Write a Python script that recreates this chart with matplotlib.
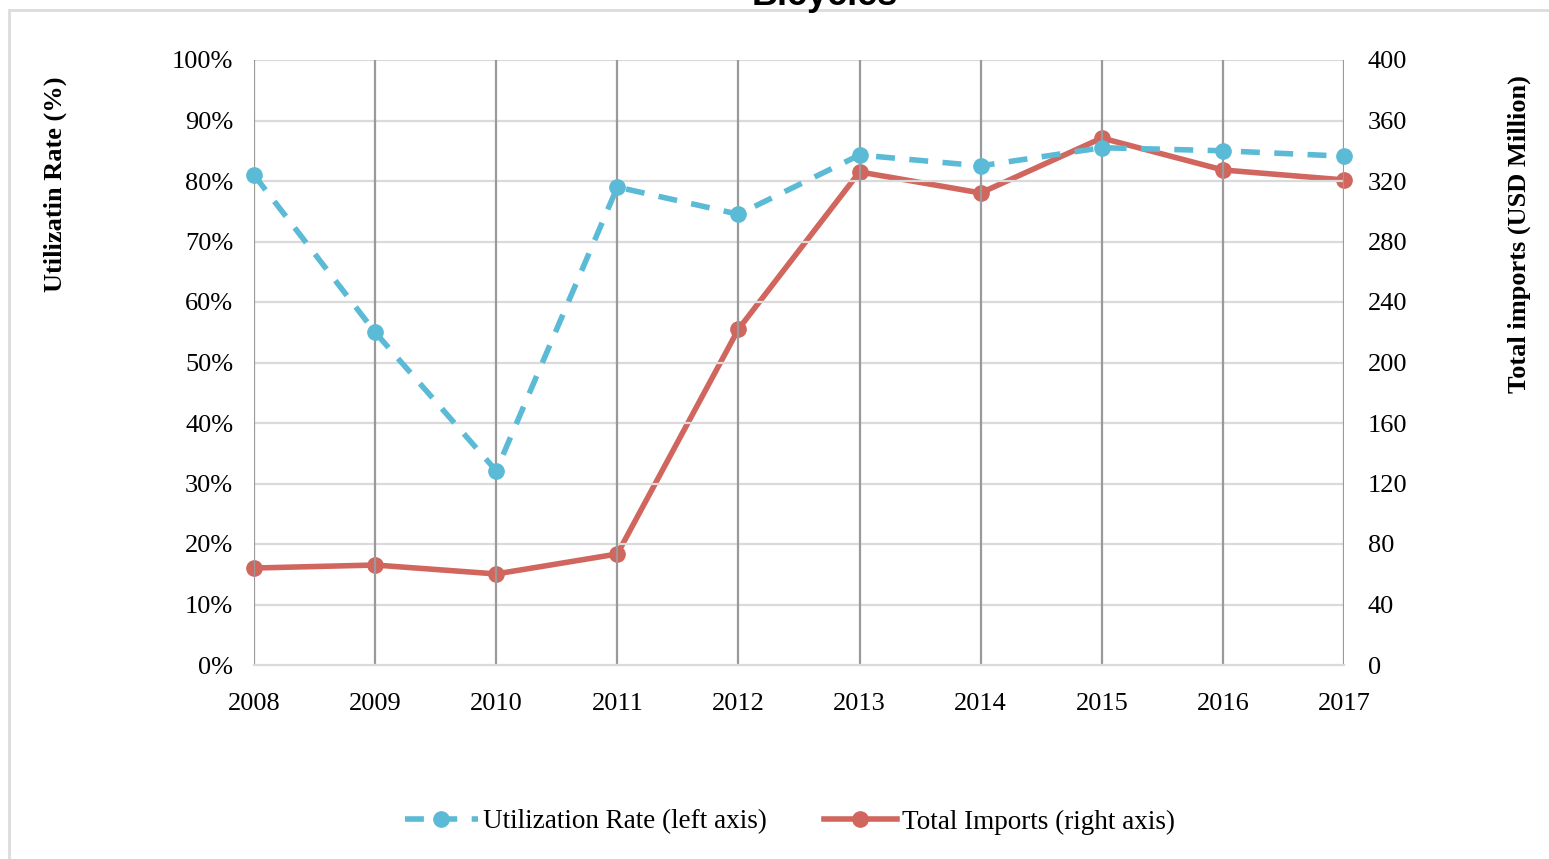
import matplotlib.pyplot as plt
from matplotlib.patches import Rectangle
from matplotlib.ticker import FuncFormatter

years = [2008, 2009, 2010, 2011, 2012, 2013, 2014, 2015, 2016, 2017]
utilization = [81.0, 55.0, 32.1, 79.0, 74.5, 84.3, 82.5, 85.5, 85.0, 84.1]
imports = [64.1, 66.1, 60.2, 73.4, 222.1, 326.0, 312.1, 348.4, 327.3, 320.7]

BLUE = "#5bbad5"
RED = "#d0665e"

plt.rcParams["font.family"] = ["Liberation Serif", "DejaVu Serif"]

fig = plt.figure(figsize=(15.49, 8.59), dpi=100)
fig.patch.set_facecolor("white")

# frame of the original slide box
fig.patches.append(Rectangle((9 / 1549, -0.01), 1.0, 1 - 10 / 859 + 0.01,
                             transform=fig.transFigure, fill=False,
                             edgecolor="#dcdcdc", linewidth=2))
# top title, cut off in the source image
fig.text(825 / 1549, 1.005, "Bicycles", ha="center", va="center",
         fontsize=26, fontweight="bold", family="Liberation Sans")

ax = fig.add_axes([254 / 1549, 1 - 665 / 859, 1090 / 1549, 605 / 859])
ax2 = ax.twinx()

ax.set_xlim(2008, 2017)
ax.set_ylim(0, 100)
ax2.set_ylim(0, 400)
ax.set_xticks(years)
ax.set_yticks(range(0, 101, 10))
ax2.set_yticks(range(0, 401, 40))
ax.yaxis.set_major_formatter(FuncFormatter(lambda v, p: f"{int(v)}%"))

for y in range(10, 101, 10):
    ax.axhline(y, color="#dadada", linewidth=1.6, zorder=0)
for x in years:
    ax.axvline(x, color="#9a9a9a", linewidth=1.6, zorder=0)

for a in (ax, ax2):
    for s in a.spines.values():
        s.set_visible(False)
    a.tick_params(length=0, labelsize=19)
ax.spines["bottom"].set_visible(True)
ax.spines["bottom"].set_color("#dadada")
ax.spines["bottom"].set_linewidth(1.6)
ax.tick_params(axis="x", pad=20)
ax.tick_params(axis="y", pad=15)
ax2.tick_params(axis="y", pad=17)

ax.set_ylabel("Utilizatin Rate (%)", fontsize=19, fontweight="bold", labelpad=0)
ax.yaxis.set_label_coords(-0.172, 0.795)
ax2.set_ylabel("Total imports (USD Million)", fontsize=19, fontweight="bold",
               labelpad=0)
ax2.yaxis.set_label_coords(1.150, 0.712)

l1, = ax.plot(years, utilization, color=BLUE, linewidth=4, linestyle=(0, (3.4, 2.6)),
              marker="o", markersize=11, clip_on=False, zorder=3,
              label="Utilization Rate (left axis)")
l2, = ax2.plot(years, imports, color=RED, linewidth=4, marker="o", markersize=11,
               clip_on=False, zorder=3, label="Total Imports (right axis)")
ax2.set_zorder(ax.get_zorder() - 1)
ax.patch.set_visible(False)
ax2.patch.set_visible(False)

fig.legend(handles=[l1, l2], loc="center", bbox_to_anchor=(790 / 1549, 1 - 822 / 859),
           ncol=2, frameon=False, fontsize=19.5, handlelength=2.7,
           columnspacing=2.1, handletextpad=0.2)

fig.savefig("out.png", dpi=100, facecolor="white")
